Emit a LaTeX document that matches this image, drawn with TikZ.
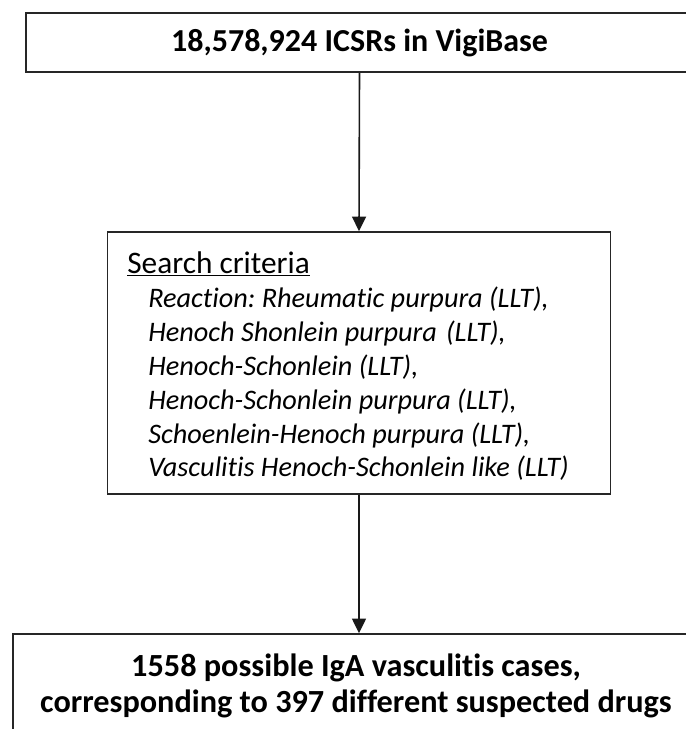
\documentclass[tikz,border=0pt]{standalone}
\usepackage{fontspec}
\setmainfont[RawFeature=-liga]{Carlito}
\usetikzlibrary{arrows.meta}
\frenchspacing
\begin{document}
\begin{tikzpicture}[x=0.75pt,y=-0.75pt,
  box/.style={draw=black!85, line width=1.2pt, rectangle, inner sep=0pt},
  arr/.style={draw=black!90, line width=1.2pt, -{Triangle[width=10.5pt,length=11pt]}},
  crit/.style={anchor=base west, inner sep=0pt, font=\fontsize{21.2}{25}\selectfont\itshape},
  hdr/.style={anchor=base west, inner sep=0pt, font=\fontsize{23.5}{27}\selectfont},
  bold/.style={anchor=base, inner sep=0pt, font=\fontsize{24.2}{29}\selectfont\bfseries}
]
\useasboundingbox (0,0) rectangle (686,729);
% boxes
\node[box, minimum width=667*0.75pt, minimum height=59*0.75pt, font=\fontsize{24}{28}\selectfont\bfseries] (top) at (359.5,42.5) {18,578,924 ICSRs in VigiBase};
\node[box, minimum width=503*0.75pt, minimum height=262*0.75pt] (mid) at (359,363) {};
\node[box, minimum width=692*0.75pt, minimum height=180*0.75pt] (bot) at (359,724) {};
% middle text
\node[hdr] (h) at (127,273) {\underline{Search criteria}};
\node[crit] (c1) at (148,307) {Reaction: Rheumatic purpura (LLT),};
\node[crit] (c2) at (148,341) {Henoch Shonlein purpura\hspace{0.33em}(LLT),};
\node[crit] (c3) at (148,375) {Henoch-Schonlein (LLT),};
\node[crit] (c4) at (148,409) {Henoch-Schonlein purpura (LLT),};
\node[crit] (c5) at (148,443) {Schoenlein-Henoch purpura (LLT),};
\node[crit] (c6) at (148,476) {Vasculitis Henoch-Schonlein like (LLT)};
% bottom text
\node[bold] (b1) at (356,676) {1558 possible IgA vasculitis cases,};
\node[bold] (b2) at (356,712) {corresponding to 397 different suspected drugs};
% arrows
\draw[arr] (top.south) -- (mid.north);
\draw[arr] (mid.south) -- (bot.north);
\end{tikzpicture}
\end{document}
